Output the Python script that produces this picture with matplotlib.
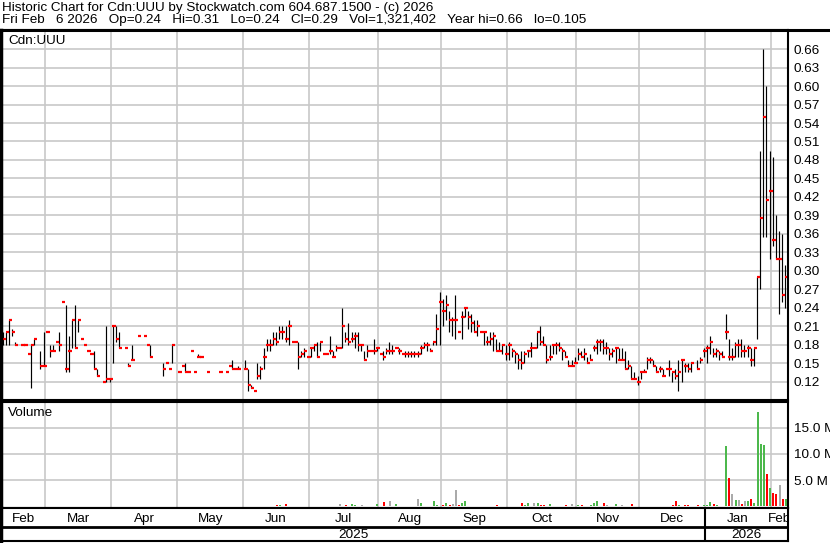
import numpy as np
import matplotlib
matplotlib.use('Agg')
import matplotlib.pyplot as plt
from matplotlib.lines import Line2D

plt.rcParams['font.family'] = ['Liberation Sans', 'DejaVu Sans']

nan = np.nan

# trading days per month shown (Feb 10 2025 .. Feb 6 2026)
month_labels = ['Feb', 'Mar', 'Apr', 'May', 'Jun', 'Jul', 'Aug', 'Sep', 'Oct', 'Nov', 'Dec', 'Jan', 'Feb']
month_days = [14, 21, 21, 21, 21, 22, 20, 21, 22, 20, 21, 21, 5]
year_labels = ['2025', '2026']

high = [
    # Feb 2025
    .20, .20, .22, .205, .185, nan, .18, .18, .165, .18, .19, nan, .17, .20,
    # Mar
    .20, .18, .18, .185, .20, .25, .245, .195, .22, .245, .22, .19, .18, .17, .165, .17, .14, nan, .12, .21, .125,
    # Apr
    .21, .21, .20, nan, .175, .15, .18, nan, .195, nan, .195, .18, .18, nan, nan, nan, .15, .15, .14, .18, nan,
    # May
    .135, .145, .15, .135, .17, .135, .165, .16, nan, .135, nan, nan, nan, .135, nan, .135, .145, .155, .14, .145, nan,
    # Jun
    .155, .14, .115, .105, .15, .145, .175, .19, .19, .20, .20, .21, .21, .21, .22, .185, .185, .185, .17, .175, .16,
    # Jul
    .175, .18, .185, .185, .165, .165, .195, .17, .18, .175, .24, .20, .215, .20, .20, .20, .18, .17, .18, .17, .19, .175,
    # Aug
    .165, .17, .175, .185, .18, .175, .175, .165, .17, .17, .17, .17, .17, .18, .185, .185, .175, .185, .23, .265,
    # Sep
    .255, .26, .235, .225, .26, .20, .235, .24, .235, .23, .22, .22, .20, .20, .195, .20, .20, .19, .185, .18, .18,
    # Oct
    .185, .175, .17, .165, .17, .17, .17, .185, .175, .20, .21, .195, .18, .18, .18, .185, .185, .175, .17, .155, .155, .16,
    # Nov
    .175, .17, .175, .16, .165, .18, .19, .19, .19, .185, .175, .175, .175, .175, .175, .17, .155, .145, .135, .13,
    # Dec
    .135, .14, .16, .16, .155, .145, .145, .14, .14, .155, .135, .14, .155, .155, .15, .15, .15, nan, .155, .16, .175,
    # Jan 2026
    .18, .195, .175, .175, .17, .17, .23, .19, .175, .185, .19, .19, .18, .18, .175, .175, .29, .495, .66, .60, .495,
    # Feb
    .485, .39, .365, .36, .31,
]

low = [
    .18, .18, .18, .195, .18, nan, .18, .18, .165, .11, .18, nan, .14, .145,
    .20, .16, .17, .185, .17, .25, .135, .135, .175, .175, .20, .19, .18, .17, .165, .14, .13, nan, .12, .12, .12,
    .15, .185, .175, nan, .175, .145, .155, nan, .195, nan, .195, .18, .16, nan, nan, nan, .13, .15, .14, .15, nan,
    .135, .145, .135, .135, .17, .135, .16, .16, nan, .135, nan, nan, nan, .135, nan, .135, .145, .14, .14, .14, nan,
    .14, .105, .11, .105, .125, .125, .14, .17, .17, .18, .18, .19, .19, .185, .18, .185, .185, .14, .16, .16, .16,
    .16, .17, .16, .17, .165, .165, .165, .16, .17, .175, .175, .185, .18, .185, .175, .17, .17, .155, .16, .17, .165, .17,
    .165, .155, .165, .165, .165, .175, .165, .165, .16, .16, .16, .16, .16, .165, .175, .17, .17, .18, .18, .18,
    .21, .22, .20, .195, .19, .20, .19, .225, .205, .20, .20, .195, .20, .18, .18, .18, .17, .17, .17, .165, .155,
    .155, .16, .15, .14, .14, .15, .16, .16, .175, .175, .18, .18, .15, .155, .165, .165, .17, .155, .16, .145, .145, .15,
    .155, .16, .155, .15, .155, .17, .165, .17, .165, .165, .155, .16, .15, .155, .155, .14, .14, .125, .125, .115,
    .125, .135, .14, .15, .145, .135, .135, .13, .14, .13, .12, .125, .105, .12, .135, .135, .135, nan, .14, .15, .16,
    .15, .165, .16, .16, .155, .16, .19, .155, .155, .16, .16, .16, .16, .16, .145, .145, .19, .27, .355, .355, .32,
    .34, .32, .23, .25, .24,
]

close = [
    .19, .20, .22, .20, .18, nan, .18, .18, .165, .18, .19, nan, .145, .145,
    .20, .17, .17, .185, .18, .25, .14, .17, .22, .175, .22, .19, .18, .17, .165, .14, .13, nan, .12, .125, .125,
    .21, .19, .175, nan, .175, .145, .155, nan, .195, nan, .195, .18, .16, nan, nan, nan, .14, .15, .14, .18, nan,
    .135, .145, .135, .135, .17, .135, .16, .16, nan, .135, nan, nan, nan, .135, nan, .135, .145, .14, .14, .14, nan,
    .14, .115, .11, .105, .13, .14, .16, .18, .18, .19, .185, .20, .20, .19, .21, .185, .185, .16, .165, .17, .16,
    .175, .18, .16, .185, .165, .165, .17, .16, .175, .175, .21, .19, .185, .19, .195, .18, .18, .155, .17, .17, .17, .175,
    .165, .16, .17, .17, .17, .175, .17, .165, .165, .165, .165, .165, .165, .175, .18, .18, .17, .185, .205, .25,
    .235, .245, .22, .22, .22, .20, .225, .24, .225, .215, .20, .21, .20, .20, .185, .19, .195, .17, .17, .18, .165,
    .18, .17, .165, .155, .15, .165, .17, .175, .175, .20, .185, .18, .155, .16, .18, .18, .175, .17, .16, .145, .145, .15,
    .165, .16, .165, .15, .155, .175, .185, .185, .175, .175, .165, .17, .175, .155, .155, .14, .145, .125, .125, .12,
    .135, .135, .155, .155, .145, .135, .14, .13, .14, .14, .135, .13, .135, .155, .145, .14, .15, nan, .14, .155, .17,
    .175, .185, .165, .17, .165, .16, .20, .16, .16, .18, .18, .17, .17, .175, .155, .175, .29, .385, .55, .415, .43,
    .35, .32, .32, .26, .29,
]

# volume, millions of shares
volume = [
    0, 0, 0, 0, 0, 0, 0, 0, .1, 0, 0, 0, 0, 0,
    0, 0, 0, 0, 0, 0, 0, 0, 0, 0, 0, 0, 0, 0, 0, 0, 0, 0, 0, 0, 0,
    .1, 0, 0, 0, 0, 0, 0, 0, 0, 0, 0, 0, 0, 0, 0, 0, 0, 0, 0, 0, 0,
    0, 0, 0, 0, 0, 0, 0, 0, 0, 0, 0, 0, 0, 0, 0, 0, 0, 0, 0, 0, 0,
    0, 0, 0, 0, 0, 0, .12, 0, .12, 0, .3, .3, 0, .45, 0, 0, .12, 0, 0, 0, 0,
    0, 0, 0, 0, 0, 0, 0, 0, 0, .45, 0, .3, 0, .45, .3, .12, .3, 0, .12, 0, 0, .45,
    0, .8, .12, 1.0, 0, .45, 0, .12, 0, 0, 0, 0, 1.5, .6, 0, 0, .12, 1.0, .3, 0,
    .3, .6, .3, .45, 3.2, .3, .6, 1.0, .12, .12, .12, 0, .12, .12, .12, 0, 0, .3, .12, 0, .12,
    0, 0, .12, 0, .58, .19, .58, 0, .58, .58, .19, .19, 0, .38, 0, 0, 0, 0, .19, 0, .38, 0,
    .19, .19, 0, 0, .19, .58, .96, 0, .58, .19, 0, 0, .38, 0, .19, 0, 0, .38, 0, 0,
    0, 0, 0, 0, 0, 0, 0, 0, 0, 0, .19, .96, .19, 0, .19, .19, 0, 0, .19, 0, .19,
    .19, .77, .38, .19, .05, .05, 11.5, 5.4, 2.3, 1.15, 1.15, .4, 1.0, 1.0, 1.35, .6, 18.0, 11.9, 11.7, 6.1, 3.6,
    2.5, 2.3, 4.0, 1.5, 1.32,
]

price_ticks = [.12, .15, .18, .21, .24, .27, .30, .33, .36, .39, .42, .45, .48, .51, .54, .57, .60, .63, .66]
vol_ticks = [5, 10, 15]

header1 = 'Historic Chart for Cdn:UUU by Stockwatch.com 604.687.1500 - (c) 2026'
header2 = 'Fri Feb   6 2026   Op=0.24   Hi=0.31   Lo=0.24   Cl=0.29   Vol=1,321,402   Year hi=0.66   lo=0.105'

FS = 9.7
W, H = 830, 543
fig = plt.figure(figsize=(W / 100, H / 100), dpi=100)


def box(x0, y0, x1, y1):
    # pixel box (top-left origin) -> figure fraction
    return [x0 / W, 1 - y1 / H, (x1 - x0) / W, (y1 - y0) / H]


ax = fig.add_axes(box(1, 30, 788, 400))
axv = fig.add_axes(box(1, 402, 788, 508))
axd = fig.add_axes(box(1, 508, 788, 541))

n = len(close)
x = np.arange(n)
hi = np.array(high, float)
lo = np.array(low, float)
cl = np.array(close, float)
vol = np.array(volume, float)

starts = np.cumsum([0] + month_days[:-1])
edges = starts[1:] - 0.5
xmin, xmax = -0.54, 249.86
grid_c = '#c8c8c8'

# price panel
ax.vlines(x, lo, hi, color='black', lw=0.85)
ax.hlines(cl, x - 0.1, x + 0.95, color='#ff0000', lw=1.6)
ax.set_xlim(xmin, xmax)
ax.set_ylim(0.0903, 0.691)
ax.set_xticks(edges)
ax.set_yticks(price_ticks)
ax.set_yticklabels(['%.2f' % t for t in price_ticks])
ax.yaxis.tick_right()
ax.tick_params(axis='y', length=0, pad=4, labelsize=FS)
ax.tick_params(axis='x', length=0, labelbottom=False)
ax.grid(color=grid_c, lw=1.2)
ax.set_axisbelow(True)
ax.text(7 / 787, 1 - 11 / 370, 'Cdn:UUU', transform=ax.transAxes, fontsize=FS, va='center', ha='left')

# volume panel, coloured by change in close
last = nan
colors = []
for c in cl:
    if np.isnan(c) or np.isnan(last) or c == last:
        colors.append('#aaaaaa')
    elif c > last:
        colors.append('#4cb84c')
    else:
        colors.append('#ff0000')
    if not np.isnan(c):
        last = c
axv.bar(x - 0.15, vol, width=0.65, align='edge', color=colors, lw=0)
axv.set_xlim(xmin, xmax)
axv.set_ylim(-0.3, 19.9)
axv.set_xticks(edges)
axv.set_yticks(vol_ticks)
axv.set_yticklabels(['%.1f M' % t for t in vol_ticks])
axv.yaxis.tick_right()
axv.tick_params(axis='y', length=0, pad=4, labelsize=FS)
axv.tick_params(axis='x', length=0, labelbottom=False)
axv.grid(color=grid_c, lw=1.2)
axv.set_axisbelow(True)
axv.text(7 / 787, 1 - 11 / 106, 'Volume', transform=axv.transAxes, fontsize=FS, va='center', ha='left')

# date rows
axd.set_xlim(xmin, xmax)
axd.set_ylim(0, 33)
axd.set_xticks([])
axd.set_yticks([])
bounds = [xmin] + list(edges) + [xmax]
for lab, a, b in zip(month_labels, bounds[:-1], bounds[1:]):
    axd.text((a + b) / 2, 22, lab, ha='center', va='center', fontsize=FS, clip_on=True)
yr = edges[10]
axd.text((xmin + yr) / 2, 5.5, year_labels[0], ha='center', va='center', fontsize=FS)
axd.text((yr + xmax) / 2, 5.5, year_labels[1], ha='center', va='center', fontsize=FS)
axd.axhline(14, color='black', lw=2)
axd.plot([yr, yr], [0, 33], color='black', lw=1.5)

for a in (ax, axv, axd):
    for s in a.spines.values():
        s.set_color('black')
        s.set_linewidth(1.5)
    a.spines['left'].set_linewidth(2.5)

# header
fig.text(2 / W, 1 - 8 / H, header1, fontsize=FS, va='center', ha='left')
fig.text(2 / W, 1 - 20 / H, header2, fontsize=FS, va='center', ha='left')
fig.add_artist(Line2D([0, 1], [1 - 30 / H] * 2, color='black', lw=2.2, transform=fig.transFigure))

fig.savefig('out.png', dpi=100, facecolor='white')
